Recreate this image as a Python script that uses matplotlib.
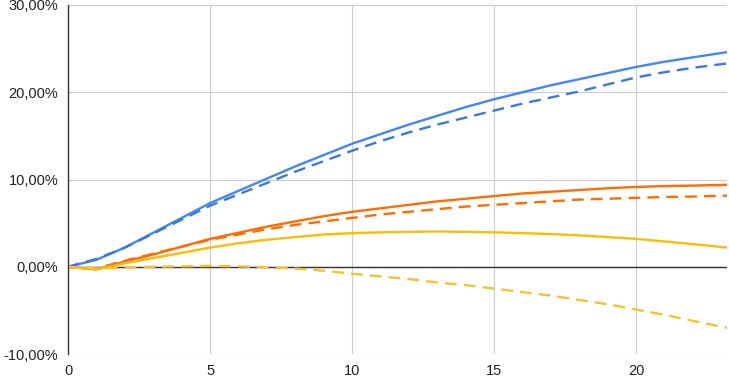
import matplotlib
matplotlib.use("Agg")
import matplotlib.pyplot as plt
from matplotlib.ticker import FuncFormatter, MultipleLocator

# values, in percent; last point sits at the right edge
years = list(range(23)) + [23.2]

blue_solid = [0, 0.8, 2.2, 3.9, 5.6, 7.3, 8.7, 10.1, 11.5, 12.8, 14.1, 15.2,
              16.3, 17.3, 18.3, 19.2, 20.0, 20.8, 21.5, 22.2, 22.9, 23.5, 24.0, 24.6]
blue_dashed = [0, 0.9, 2.2, 3.8, 5.4, 7.0, 8.3, 9.6, 10.9, 12.1, 13.3, 14.4,
               15.4, 16.3, 17.1, 17.9, 18.7, 19.4, 20.1, 20.9, 21.7, 22.3, 22.8, 23.3]
orange_solid = [0, -0.3, 0.6, 1.4, 2.3, 3.2, 3.9, 4.6, 5.2, 5.8, 6.3, 6.7,
                7.1, 7.5, 7.8, 8.1, 8.4, 8.6, 8.8, 9.0, 9.15, 9.25, 9.3, 9.4]
orange_dashed = [0, -0.2, 0.7, 1.5, 2.3, 3.1, 3.7, 4.3, 4.8, 5.2, 5.6, 6.0,
                 6.3, 6.6, 6.9, 7.1, 7.3, 7.5, 7.7, 7.8, 7.9, 8.0, 8.05, 8.15]
yellow_solid = [0, -0.3, 0.4, 1.0, 1.6, 2.2, 2.7, 3.1, 3.4, 3.7, 3.85, 3.95,
                4.0, 4.05, 4.0, 3.95, 3.85, 3.75, 3.6, 3.4, 3.2, 2.9, 2.6, 2.2]
yellow_dashed = [0, -0.2, -0.1, 0, 0.05, 0.1, 0.05, -0.05, -0.2, -0.45, -0.8, -1.1,
                 -1.4, -1.8, -2.1, -2.5, -2.9, -3.3, -3.8, -4.3, -4.9, -5.5, -6.2, -7.0]

plt.rcParams['font.family'] = ['Liberation Sans', 'DejaVu Sans']

fig = plt.figure(figsize=(7.29, 3.84), dpi=100)
ax = fig.add_axes([0.0933, 0.078, 0.904, 0.909])

lw = 1.7
dash = (5, 3)
ax.plot(years, blue_solid, color='#4285f4', lw=lw, zorder=3)
ax.plot(years, blue_dashed, color='#3c78d8', lw=lw, dashes=dash, zorder=3)
ax.plot(years, orange_solid, color='#ff6d01', lw=lw, zorder=3)
ax.plot(years, orange_dashed, color='#ff6d01', lw=lw, dashes=dash, zorder=3)
ax.plot(years, yellow_solid, color='#fbbc04', lw=lw, zorder=3)
ax.plot(years, yellow_dashed, color='#f6c12f', lw=lw, dashes=dash, zorder=3)

ax.axhline(0, color='#333333', lw=1.0, zorder=2)

ax.set_xlim(0, 23.2)
ax.set_ylim(-10, 30)
ax.xaxis.set_major_locator(MultipleLocator(5))
ax.yaxis.set_major_locator(MultipleLocator(10))
ax.yaxis.set_major_formatter(FuncFormatter(lambda v, p: f"{v:.2f}%".replace('.', ',')))

ax.grid(True, color='#cccccc', lw=0.8, zorder=0)
ax.set_axisbelow(True)

for side in ['top', 'right', 'bottom']:
    ax.spines[side].set_visible(False)
ax.spines['left'].set_color('#333333')
ax.spines['left'].set_linewidth(1.0)
ax.spines['left'].set_zorder(4)

ax.tick_params(axis='both', length=0, labelsize=10.5, colors='#222222')
ax.tick_params(axis='y', pad=7)
ax.tick_params(axis='x', pad=7)

fig.savefig("out.png", dpi=100)
